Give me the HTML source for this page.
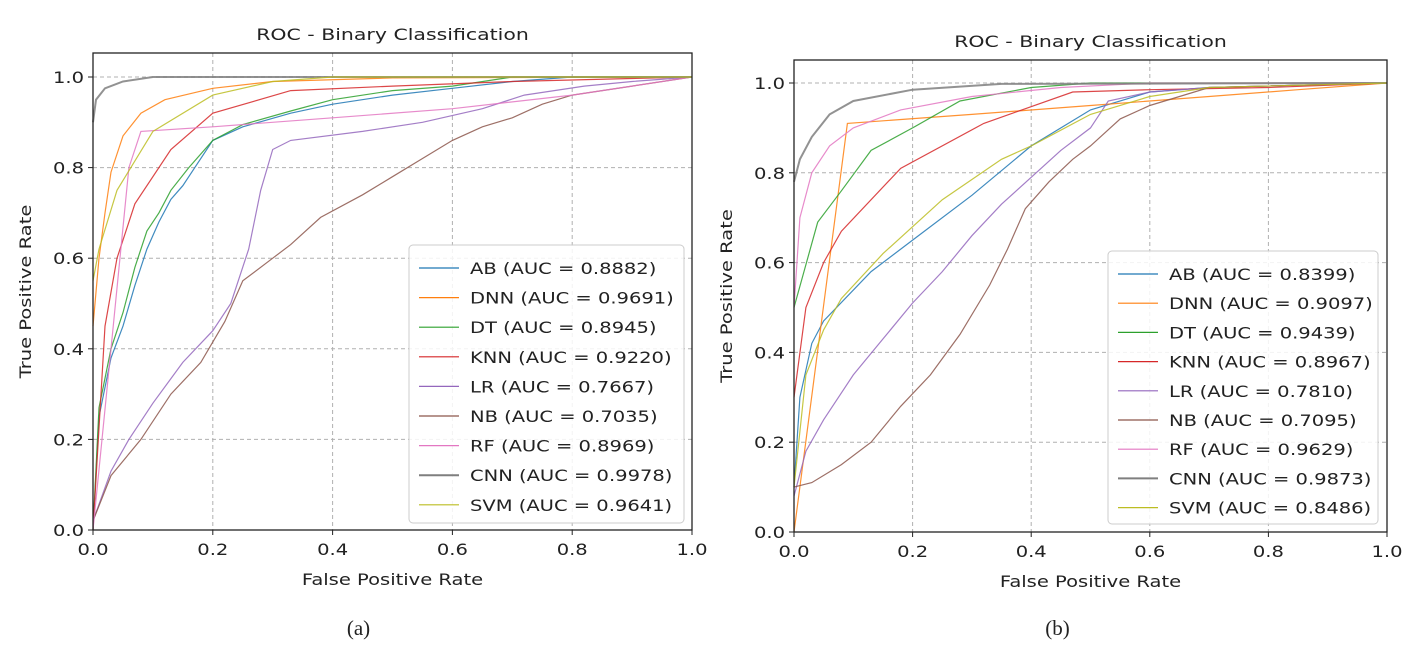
<!DOCTYPE html>
<html><head><meta charset="utf-8"><style>
html,body{margin:0;padding:0;background:#fff}
svg text{font-family:"DejaVu Sans","Liberation Sans",sans-serif;fill:#222}
</style></head><body>
<svg id="svg" width="1421" height="654" viewBox="0 0 1421 654" xmlns="http://www.w3.org/2000/svg"></svg>
<script>
const names=["AB","DNN","DT","KNN","LR","NB","RF","CNN","SVM"];
const colors=["#1f77b4","#ff7f0e","#2ca02c","#d62728","#9467bd","#8c564b","#e377c2","#7f7f7f","#bcbd22"];
const ticks=[0,0.2,0.4,0.6,0.8,1.0];
const tickLabels=["0.0","0.2","0.4","0.6","0.8","1.0"];
const aucA=["0.8882","0.9691","0.8945","0.9220","0.7667","0.7035","0.8969","0.9978","0.9641"];
const aucB=["0.8399","0.9097","0.9439","0.8967","0.7810","0.7095","0.9629","0.9873","0.8486"];
const curvesA=[
[[0,0],[0.01,0.25],[0.03,0.38],[0.05,0.45],[0.07,0.54],[0.09,0.62],[0.11,0.68],[0.13,0.73],[0.15,0.76],[0.17,0.8],[0.2,0.86],[0.25,0.89],[0.33,0.92],[0.4,0.94],[0.5,0.96],[0.6,0.975],[0.7,0.99],[0.8,1],[1,1]],
[[0,0.45],[0.01,0.6],[0.02,0.7],[0.03,0.79],[0.05,0.87],[0.08,0.92],[0.12,0.95],[0.2,0.975],[0.3,0.99],[0.5,0.998],[1,1]],
[[0,0],[0.01,0.27],[0.03,0.4],[0.05,0.48],[0.07,0.58],[0.09,0.66],[0.11,0.7],[0.13,0.75],[0.16,0.8],[0.2,0.86],[0.25,0.895],[0.33,0.925],[0.4,0.95],[0.5,0.97],[0.6,0.98],[0.7,1],[1,1]],
[[0,0],[0.02,0.45],[0.04,0.6],[0.07,0.72],[0.13,0.84],[0.2,0.92],[0.33,0.97],[0.5,0.98],[0.7,0.99],[1,1]],
[[0,0.02],[0.03,0.13],[0.06,0.2],[0.1,0.28],[0.15,0.37],[0.2,0.44],[0.23,0.5],[0.26,0.62],[0.28,0.75],[0.3,0.84],[0.33,0.86],[0.45,0.88],[0.55,0.9],[0.65,0.93],[0.72,0.96],[0.82,0.98],[0.9,0.99],[1,1]],
[[0,0.02],[0.03,0.12],[0.08,0.2],[0.13,0.3],[0.18,0.37],[0.22,0.46],[0.25,0.55],[0.3,0.6],[0.33,0.63],[0.38,0.69],[0.45,0.74],[0.5,0.78],[0.55,0.82],[0.6,0.86],[0.65,0.89],[0.7,0.91],[0.75,0.94],[0.8,0.96],[0.9,0.98],[1,1]],
[[0,0],[0.03,0.4],[0.06,0.8],[0.08,0.88],[0.2,0.89],[0.4,0.91],[0.6,0.93],[0.8,0.96],[1,1]],
[[0,0.9],[0.005,0.95],[0.02,0.975],[0.05,0.99],[0.1,1],[1,1]],
[[0,0.55],[0.01,0.62],[0.04,0.75],[0.1,0.88],[0.2,0.96],[0.3,0.99],[0.4,1],[1,1]]
];
const curvesB=[
[[0,0.1],[0.01,0.3],[0.03,0.42],[0.05,0.47],[0.13,0.58],[0.2,0.65],[0.3,0.75],[0.4,0.86],[0.5,0.94],[0.6,0.98],[0.7,0.99],[1,1]],
[[0,0],[0.09,0.91],[0.3,0.93],[0.5,0.95],[0.7,0.97],[0.85,0.985],[1,1]],
[[0,0.5],[0.04,0.69],[0.08,0.76],[0.13,0.85],[0.2,0.9],[0.28,0.96],[0.4,0.99],[0.5,1],[1,1]],
[[0,0.3],[0.02,0.5],[0.05,0.6],[0.08,0.67],[0.18,0.81],[0.32,0.91],[0.47,0.98],[0.6,0.985],[0.8,0.99],[1,1]],
[[0,0.08],[0.02,0.18],[0.05,0.25],[0.1,0.35],[0.15,0.43],[0.2,0.51],[0.25,0.58],[0.3,0.66],[0.35,0.73],[0.4,0.79],[0.45,0.85],[0.5,0.9],[0.53,0.96],[0.6,0.98],[0.7,0.99],[1,1]],
[[0,0.1],[0.03,0.11],[0.08,0.15],[0.13,0.2],[0.18,0.28],[0.23,0.35],[0.28,0.44],[0.33,0.55],[0.36,0.63],[0.39,0.72],[0.43,0.78],[0.47,0.83],[0.5,0.86],[0.55,0.92],[0.6,0.95],[0.65,0.97],[0.7,0.99],[1,1]],
[[0,0.5],[0.01,0.7],[0.03,0.8],[0.06,0.86],[0.1,0.9],[0.18,0.94],[0.3,0.97],[0.45,0.99],[0.6,1],[1,1]],
[[0,0.78],[0.01,0.83],[0.03,0.88],[0.06,0.93],[0.1,0.96],[0.2,0.985],[0.35,0.998],[1,1]],
[[0,0.1],[0.02,0.35],[0.05,0.45],[0.08,0.52],[0.15,0.62],[0.25,0.74],[0.35,0.83],[0.4,0.86],[0.5,0.93],[0.6,0.97],[0.7,0.99],[1,1]]
];
const NS="http://www.w3.org/2000/svg";
const svg=document.getElementById('svg');
function mk(tag,attrs,parent,txt){const e=document.createElementNS(NS,tag);for(const k in attrs)e.setAttribute(k,attrs[k]);if(txt!==undefined)e.textContent=txt;(parent||svg).appendChild(e);return e;}
function txt(parent,x,y,s,anchor,size,sx,rot){
  return mk('text',{x:0,y:0,'text-anchor':anchor,'font-size':size,transform:'translate('+x+' '+y+')'+(rot?' rotate('+rot+')':'')+' scale('+sx+' 1)'},parent,s);
}
const SX=1.22;
function panel(id,P,curves,auc,caption){
  const g=mk('g',{});
  
  
  const sx=v=>P.x0+(P.x1-P.x0)*v, sy=v=>P.y0+(P.y1-P.y0)*v;
  ticks.forEach((t,i)=>{
    if(i>0&&i<5){const l=mk('line',{x1:sx(t),x2:sx(t),y1:P.top,y2:P.y0,stroke:'#b0b0b0','stroke-dasharray':'4,3','stroke-width':1},g);
    }
    const l2=mk('line',{x1:P.x0,x2:P.x1,y1:sy(t),y2:sy(t),stroke:'#b0b0b0','stroke-dasharray':'4,3','stroke-width':1},g);
    
  });
  curves.forEach((c,i)=>{
    const d=c.map((p,j)=>(j?'L':'M')+sx(p[0]).toFixed(1)+','+sy(p[1]).toFixed(1)).join('');
    const pth=mk('path',{d:d,fill:'none',stroke:colors[i],'stroke-width':names[i]==='CNN'?2:1.2,'stroke-opacity':0.85},g);
    
    
  });
  const fr=mk('rect',{x:P.x0,y:P.top,width:P.x1-P.x0,height:P.y0-P.top,fill:'none',stroke:'#222','stroke-width':1.3},g);
  
  ticks.forEach((t,i)=>{
    mk('line',{x1:sx(t),x2:sx(t),y1:P.y0,y2:P.y0+5,stroke:'#222'},g);
    const tx=txt(g,sx(t),P.y0+25,tickLabels[i],'middle',16,SX);
    
    mk('line',{x1:P.x0-5,x2:P.x0,y1:sy(t),y2:sy(t),stroke:'#222'},g);
    const ty=txt(g,P.x0-9,sy(t)+6,tickLabels[i],'end',16,SX);
    
  });
  const tt=txt(g,(P.x0+P.x1)/2,P.top-13,'ROC - Binary Classification','middle',16,1.28);
  
  const xl=txt(g,(P.x0+P.x1)/2,P.y0+55,'False Positive Rate','middle',16,SX);
  
  const yc=(P.top+P.y0)/2;
  const yl=txt(g,P.x0-62,yc,'True Positive Rate','middle',16,SX,-90);
  
  const L=P.leg;
  const lg=mk('g',{},g);
  
  mk('rect',{x:L.x,y:L.y,width:L.w,height:L.h,rx:4,fill:'#fff','fill-opacity':0.85,stroke:'#ccc'},lg);
  names.forEach((n,i)=>{
    const y=L.y+23+i*L.dy;
    const e=mk('g',{},lg);
    
    
    mk('line',{x1:L.x+10,x2:L.x+50,y1:y,y2:y,stroke:colors[i],'stroke-width':n==='CNN'?2:1.2},e);
    txt(e,L.x+61,y+6,n+' (AUC = '+auc[i]+')','start',16,SX);
  });
  const cp=mk('text',{x:(P.x0+P.x1)/2+(caption==='(a)'?-34:-33),y:635,'text-anchor':'middle','font-size':21,style:'font-family:"Liberation Serif",serif'},g,caption);
  
}
panel('panel-a',{x0:93,x1:692,y0:530,y1:77,top:53,leg:{x:409,y:245,w:275,h:278,dy:29.6}},curvesA,aucA,'(a)');
panel('panel-b',{x0:794,x1:1387,y0:532,y1:83,top:60,leg:{x:1108,y:251,w:270,h:273,dy:29.2}},curvesB,aucB,'(b)');
</script>
</body></html>
